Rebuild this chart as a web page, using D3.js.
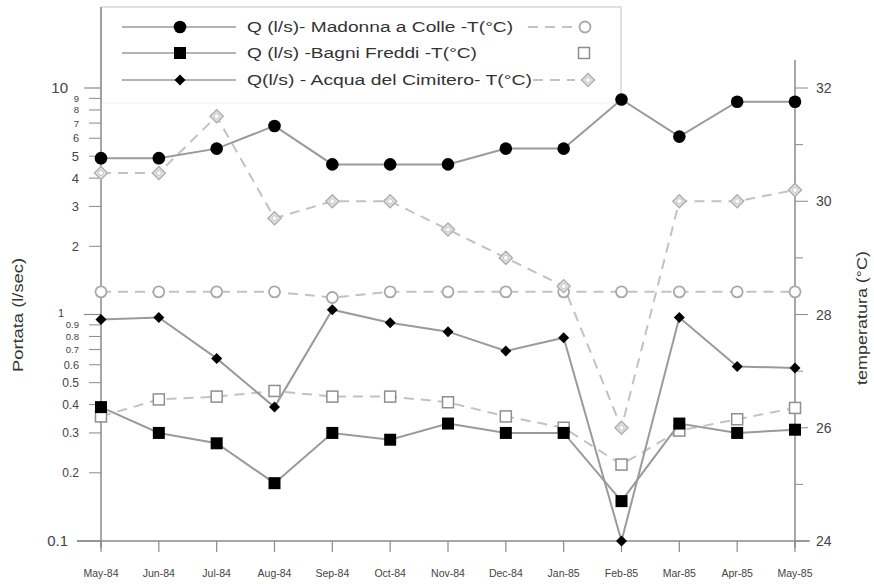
<!DOCTYPE html>
<html><head><meta charset="utf-8">
<script src="https://cdn.jsdelivr.net/npm/d3@7"></script>
<style>body{margin:0;background:#fff}svg{display:block;font-family:"Liberation Sans",Arial,sans-serif}</style>
</head><body><svg id="c" width="874" height="584"></svg>
<script>
const months = ["May-84","Jun-84","Jul-84","Aug-84","Sep-84","Oct-84","Nov-84","Dec-84","Jan-85","Feb-85","Mar-85","Apr-85","May-85"];
const qMadonna = [4.9, 4.9, 5.4, 6.8, 4.6, 4.6, 4.6, 5.4, 5.4, 8.9, 6.1, 8.7, 8.7];
const qBagni = [0.39, 0.30, 0.27, 0.18, 0.30, 0.28, 0.33, 0.30, 0.30, 0.15, 0.33, 0.30, 0.31];
const qAcqua = [0.95, 0.97, 0.64, 0.39, 1.05, 0.92, 0.84, 0.69, 0.79, 0.10, 0.97, 0.59, 0.58];
const tMadonna = [28.4, 28.4, 28.4, 28.4, 28.3, 28.4, 28.4, 28.4, 28.4, 28.4, 28.4, 28.4, 28.4];
const tBagni = [26.2, 26.5, 26.55, 26.65, 26.55, 26.55, 26.45, 26.2, 26.0, 25.35, 25.95, 26.15, 26.35];
const tAcqua = [30.5, 30.5, 31.5, 29.7, 30.0, 30.0, 29.5, 29.0, 28.5, 26.0, 30.0, 30.0, 30.2];
const leftMajor = [0.1, 1, 10];
const leftMinor = [0.2,0.3,0.4,0.5,0.6,0.7,0.8,0.9,2,3,4,5,6,7,8,9];
const rightTicks = [24,25,26,27,28,29,30,31,32];
const rightLabels = [24,26,28,30,32];
const legendLabels = ["Q (l/s)- Madonna a Colle -T(°C)", "Q (l/s) -Bagni Freddi -T(°C)", "Q(l/s) - Acqua del Cimitero- T(°C)"];

const svg = d3.select("#c");
const x = d3.scalePoint().domain(months).range([101, 795]);
const yL = d3.scaleLog().domain([0.1, 10]).range([541, 88]);
const yR = d3.scaleLinear().domain([24, 32]).range([541, 88]);
const axisCol = "#8a8a8a", txtCol = "#444";

// legend box (faint)
svg.append("path").attr("d","M101,103V7H621V103").attr("fill","none").attr("stroke","#d8d8d8").attr("stroke-width",1.5);
svg.append("line").attr("x1",101).attr("x2",621).attr("y1",103).attr("y2",103).attr("stroke","#f0f0f0").attr("stroke-width",1);

// axes lines
svg.append("line").attr("x1",101).attr("x2",101).attr("y1",7).attr("y2",548).attr("stroke",axisCol).attr("stroke-width",1.5);
svg.append("line").attr("x1",795).attr("x2",795).attr("y1",60).attr("y2",548).attr("stroke",axisCol).attr("stroke-width",1.5);
svg.append("line").attr("x1",77).attr("x2",810).attr("y1",541).attr("y2",541).attr("stroke",axisCol).attr("stroke-width",1.5);

// x ticks & labels
months.forEach(m => {
  svg.append("line").attr("x1",x(m)).attr("x2",x(m)).attr("y1",541).attr("y2",552).attr("stroke",axisCol).attr("stroke-width",1.2);
  svg.append("text").attr("x",x(m)).attr("y",577).attr("text-anchor","middle").attr("font-size",10.5)
    .attr("fill",txtCol).text(m);
});

// left ticks
function minorSize(v){ const m = v<1 ? Math.round(v*10) : v; return m<=5 ? (v<1?12:13) : (m===6 ? 11 : 9.5); }
leftMinor.forEach(v => {
  svg.append("line").attr("x1",89).attr("x2",101).attr("y1",yL(v)).attr("y2",yL(v)).attr("stroke",axisCol).attr("stroke-width",1);
  const fs = minorSize(v);
  svg.append("text").attr("x",79).attr("y",yL(v)+fs*0.36).attr("text-anchor","end").attr("font-size",fs)
    .attr("fill",txtCol).text(v);
});
leftMajor.forEach(v => {
  svg.append("line").attr("x1",v===0.1?77:84).attr("x2",101).attr("y1",yL(v)).attr("y2",yL(v)).attr("stroke",axisCol).attr("stroke-width",1.2);
  svg.append("text").attr("x",v===1?64:68).attr("y",yL(v)+(v===1?2:5)).attr("text-anchor","end").attr("font-size",v===1?11:15)
    .attr("fill",txtCol).text(v);
});

// right ticks
rightTicks.forEach(v => {
  svg.append("line").attr("x1",795).attr("x2",v%2===0?808:803).attr("y1",yR(v)).attr("y2",yR(v)).attr("stroke",axisCol).attr("stroke-width",1);
});
rightLabels.forEach(v => {
  svg.append("text").attr("x",816).attr("y",yR(v)+5).attr("font-size",14).attr("fill",txtCol).text(v);
});

// axis titles
svg.append("text").attr("transform","translate(23,315) rotate(-90)").attr("text-anchor","middle")
  .attr("font-size",14).attr("fill","#333").attr("textLength",114).attr("lengthAdjust","spacingAndGlyphs").text("Portata (l/sec)");
svg.append("text").attr("transform","translate(867,318) rotate(-90)").attr("text-anchor","middle")
  .attr("font-size",14).attr("fill","#333").attr("textLength",134).attr("lengthAdjust","spacingAndGlyphs").text("temperatura (°C)");

const solid = {stroke:"#9a9a9a", width:2};
const dashed = {stroke:"#c2c2c2", width:2, dash:"10,7"};

function drawLine(vals, yScale, st){
  const gen = d3.line().x((d,i)=>x(months[i])).y(d=>yScale(d));
  svg.append("path").attr("d",gen(vals)).attr("fill","none").attr("stroke",st.stroke)
    .attr("stroke-width",st.width).attr("stroke-dasharray",st.dash||null);
}
function marker(type, cx, cy){
  const g = svg.append("g").attr("transform",`translate(${cx},${cy})`);
  if(type==="bcircle") g.append("circle").attr("r",6.3).attr("fill","#000");
  if(type==="bsquare") g.append("rect").attr("x",-6).attr("y",-6).attr("width",12).attr("height",12).attr("fill","#000");
  if(type==="bdiamond") g.append("path").attr("d","M0,-5.5L5.5,0L0,5.5L-5.5,0Z").attr("fill","#000");
  if(type==="ocircle") g.append("circle").attr("r",5.5).attr("fill","#fff").attr("stroke","#a8a8a8").attr("stroke-width",1.8);
  if(type==="osquare") g.append("rect").attr("x",-5.5).attr("y",-5.5).attr("width",11).attr("height",11).attr("fill","#fff").attr("stroke","#8e8e8e").attr("stroke-width",1.5);
  if(type==="odiamond"){ g.append("path").attr("d","M0,-6.5L6.5,0L0,6.5L-6.5,0Z").attr("fill","#e4e4e4").attr("stroke","#b0b0b0").attr("stroke-width",1.5);
    g.append("circle").attr("r",2.5).attr("fill","#fff").attr("stroke","#c4c4c4").attr("stroke-width",1); }
}

// temperature series (dashed)
drawLine(tMadonna, yR, dashed);
drawLine(tBagni, yR, dashed);
drawLine(tAcqua, yR, dashed);
tMadonna.forEach((v,i)=>marker("ocircle", x(months[i]), yR(v)));
tBagni.forEach((v,i)=>marker("osquare", x(months[i]), yR(v)));
tAcqua.forEach((v,i)=>marker("odiamond", x(months[i]), yR(v)));

// discharge series (solid)
drawLine(qMadonna, yL, solid);
drawLine(qBagni, yL, solid);
drawLine(qAcqua, yL, solid);
qMadonna.forEach((v,i)=>marker("bcircle", x(months[i]), yL(v)));
qBagni.forEach((v,i)=>marker("bsquare", x(months[i]), yL(v)));
qAcqua.forEach((v,i)=>marker("bdiamond", x(months[i]), yL(v)));

// legend
const legRows = [
  {y:27, q:"bcircle", t:"ocircle", dash:[528,572], tx:585, len:266},
  {y:53, q:"bsquare", t:"osquare", dash:null, tx:584, len:230},
  {y:80, q:"bdiamond", t:"odiamond", dash:[533,575], tx:588, len:285}
];
legRows.forEach((r,i)=>{
  svg.append("line").attr("x1",122).attr("x2",236).attr("y1",r.y).attr("y2",r.y).attr("stroke",solid.stroke).attr("stroke-width",1.5);
  marker(r.q, 180, r.y);
  svg.append("text").attr("x",247).attr("y",r.y+5).attr("font-size",14).attr("fill","#333")
    .attr("textLength",r.len).attr("lengthAdjust","spacingAndGlyphs").text(legendLabels[i]);
  if(r.dash) svg.append("line").attr("x1",r.dash[0]).attr("x2",r.dash[1]).attr("y1",r.y).attr("y2",r.y)
    .attr("stroke",dashed.stroke).attr("stroke-width",1.8).attr("stroke-dasharray","10,7");
  marker(r.t, r.tx, r.y);
});
</script></body></html>
